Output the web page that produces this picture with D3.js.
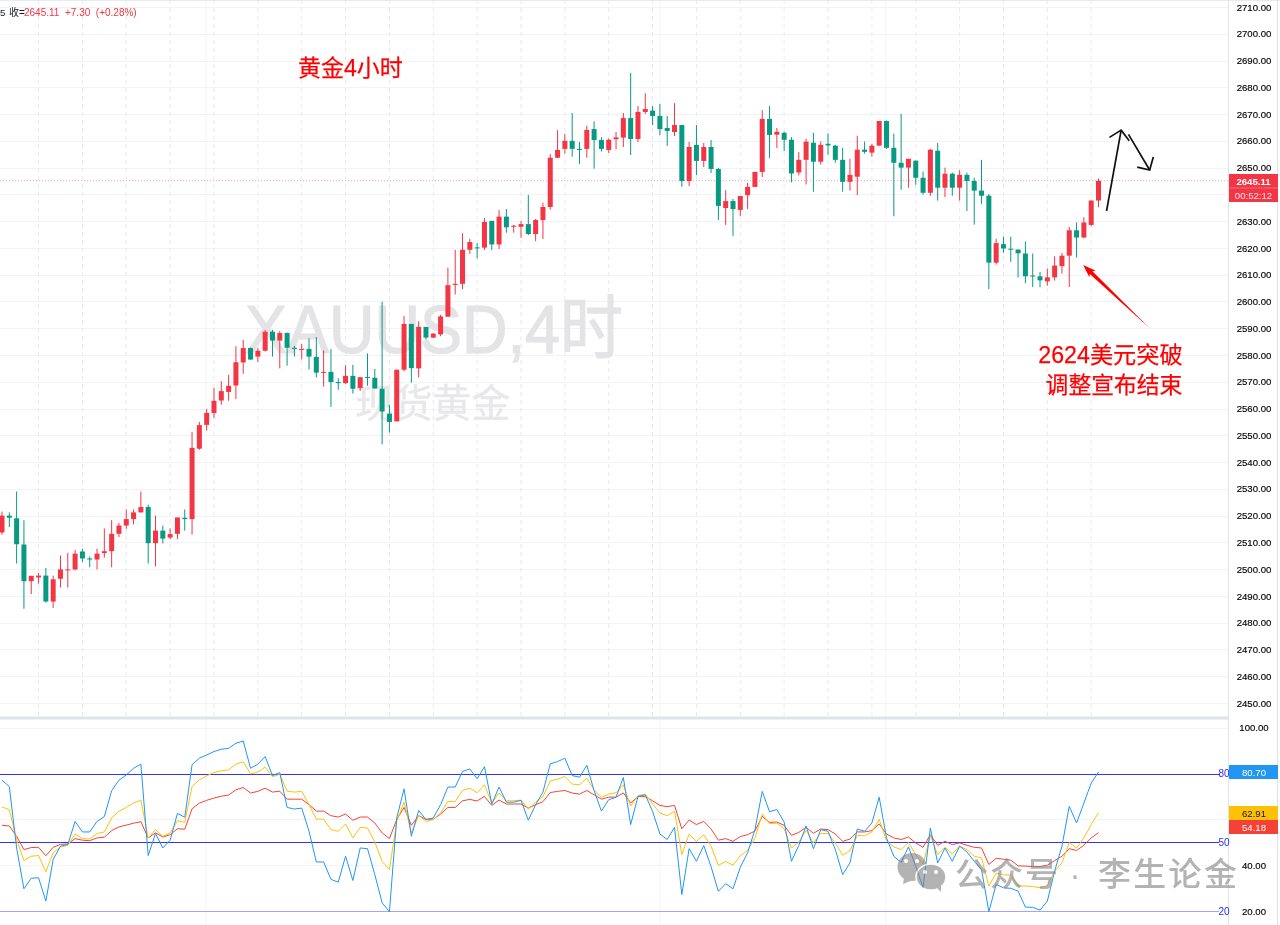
<!DOCTYPE html>
<html><head><meta charset="utf-8">
<script src="https://cdn.jsdelivr.net/npm/d3@7"></script>
<style>html,body{margin:0;padding:0;background:#fff;overflow:hidden}svg{display:block;filter:blur(0.3px)}text{font-family:"Liberation Sans","Noto Sans CJK SC",sans-serif}</style>
</head><body><svg id="c" width="1280" height="925"></svg>
<script>
const opens=[2513.7,2520,2519,2509.2,2495.5,2496.9,2497.6,2487.9,2496.4,2499.6,
2499.9,2506.6,2504,2503.6,2506,2506.7,2513.2,2516.3,2518.7,2521.2,
2523.2,2509.7,2514.4,2511.8,2513.2,2519.2,2518.7,2545,2553.9,2558.3,
2563,2566.2,2568.6,2577.2,2582.6,2579.4,2581.6,2588.7,2585.4,2588.2,
2582.7,2582.1,2582.3,2579.3,2573.4,2573.7,2569.9,2569.5,2572.2,2567.7,
2571.8,2571.5,2567.4,2558.1,2555.2,2574.5,2591.6,2575,2590.5,2586.5,
2587.7,2594.3,2606.2,2606.6,2619.3,2620.2,2620.1,2630.1,2621.3,2631.7,
2627.9,2627.9,2628.9,2625.2,2630.4,2635.3,2653.7,2657,2660,2657,
2657,2664.4,2660.3,2656.6,2660.6,2661.2,2668.5,2660.7,2670.8,2671.3,
2669.3,2664.8,2663.3,2665.9,2645,2658.5,2652.5,2657.7,2649.5,2634.9,
2637.5,2634.2,2639.7,2642.8,2648.4,2668.2,2662.3,2663,2660.4,2648.2,
2652.9,2659.3,2652.2,2658.9,2658.2,2652.9,2644.7,2646.6,2656.7,2655.6,
2658.2,2667.4,2657.4,2651.8,2650,2652.6,2646.2,2640.6,2656.3,2642.5,
2647.7,2642.5,2647.3,2645,2641.4,2639.5,2614.5,2621.4,2619.7,2619.4,
2617.9,2609.7,2609.4,2607.5,2609,2613.2,2617.1,2626.6,2623.9,2628.6,2637.7];
const closes=[2520,2519.2,2509.3,2495.5,2497.5,2497.6,2487.9,2496.2,2499.9,2499.9,
2505.8,2504,2503.6,2505.8,2506.7,2513.2,2516.3,2518.7,2521.2,2523.2,
2509.7,2514.4,2511.4,2513.1,2519.3,2518.7,2545.3,2553.8,2558.4,2562.9,
2566.5,2568.5,2577.3,2582.6,2578.3,2581.6,2588.7,2585.4,2588.2,2582.7,
2582.3,2582.3,2579.4,2573.4,2573.7,2569.9,2569.5,2572.2,2567.4,2571.7,
2571.6,2567.5,2558.9,2555,2574.5,2591.6,2575.1,2590.5,2586.5,2588,
2594.4,2606.1,2606.6,2619.3,2622.2,2619.9,2629.7,2621.3,2631.7,2627.7,
2628.3,2628.9,2625.2,2630.4,2635.3,2653.7,2656.6,2660,2657,2656.6,
2664.1,2660.3,2657,2660.4,2661.3,2668.5,2660.7,2670.8,2671.9,2669.3,
2664.4,2663.7,2665.9,2645,2657.7,2652.5,2657.7,2649.5,2635.7,2637.5,
2634.5,2639.4,2642.8,2648.4,2668.2,2662.2,2663.4,2660.4,2647.8,2652.9,
2659.7,2652.2,2658.5,2658.3,2652.9,2644.7,2647.3,2656.7,2655.9,2658.2,
2667.4,2657.4,2651.8,2650,2653.3,2646.2,2640.6,2656.7,2642.5,2647.7,
2642.5,2647.3,2645,2641.4,2639.5,2614.5,2621.8,2619.8,2619.4,2618,
2609.4,2609.4,2607.9,2609,2613.4,2617.1,2626.6,2623.9,2629.5,2637.7,2645.11];
const highs=[2521.5,2521.2,2529,2518.3,2497.5,2498.6,2500.4,2497.6,2505.1,2506.1,
2507.2,2507.6,2504.7,2507.7,2515.2,2518.3,2517.3,2522.3,2522.3,2529,
2524.1,2520,2516.3,2515.2,2519.3,2522.3,2551.3,2555,2559.9,2567.7,
2570.2,2572.6,2583.3,2585.7,2582.8,2582.6,2589.4,2589.4,2588.9,2588.4,
2583.4,2584.2,2586.2,2586.7,2581.7,2582.2,2571.3,2576.2,2576.3,2571.7,
2580.6,2574.8,2599.9,2561.4,2574.5,2594.6,2591.6,2592.6,2590.5,2588.2,
2595,2612.6,2619.3,2625.5,2623.4,2621.8,2631.2,2630.1,2634.2,2634.5,
2628.6,2630.1,2639.8,2630.8,2636.9,2655,2664,2662.6,2670.4,2659.6,
2665.7,2667.3,2661.4,2660.9,2663.3,2670.4,2685.4,2673,2677.8,2673,
2673.8,2669.3,2674.1,2665.9,2659.6,2665.9,2659.2,2660.3,2649.9,2641.6,
2638.3,2639.4,2644.3,2648.4,2671.5,2673,2664.8,2663.4,2661.4,2655.8,
2660.8,2663,2659.8,2662.8,2658.5,2657.4,2653.3,2661.9,2659.7,2658.9,
2667.4,2667.6,2662.7,2670.1,2653.3,2652.6,2648.5,2657,2659.2,2650,
2648.1,2649,2648.1,2646.2,2652.9,2640.2,2623.4,2624.2,2624.2,2619.4,
2622.4,2617.9,2611,2612.3,2616.9,2618.1,2627.9,2629.5,2631.5,2637.7,2645.9];
const lows=[2512.9,2515.7,2502.1,2485.2,2490.7,2494.6,2487.5,2485.5,2493.1,2493.1,
2499.5,2502.7,2500.7,2499.9,2504.3,2500.7,2512,2515.1,2516.7,2521.2,
2502.1,2501,2509.6,2511.2,2511.2,2514.4,2512.9,2544.6,2551.8,2556.5,
2561.4,2562.9,2563.6,2573,2578.2,2577.4,2581.3,2579.4,2575,2576,
2579.4,2578.3,2574.6,2571.6,2568.2,2560.6,2567,2569.2,2565.6,2566.6,
2568.5,2567.5,2546.6,2551,2555.2,2573.9,2569.7,2571.6,2585.7,2586.4,
2587,2594.3,2602.6,2604.6,2617.8,2616.1,2619.2,2619.2,2619.6,2625.7,
2625.7,2623.8,2624.8,2622.5,2623.3,2634.3,2653.5,2655.3,2654.1,2651.4,
2653.7,2649.6,2656,2655.5,2656.8,2657.7,2654.7,2659.6,2670,2665.9,
2662.1,2658.1,2661.8,2642.8,2643.1,2647.2,2650.2,2648,2630.4,2628.6,
2624.5,2631.9,2634.5,2642.8,2646.5,2653.6,2657.3,2656.2,2644.5,2647.1,
2643.7,2641,2651.1,2654.8,2651.8,2641,2641.4,2639.7,2655.2,2654.1,
2658.2,2657,2631.8,2641.7,2642.5,2643.6,2639.9,2639.5,2637.7,2639,
2639.5,2637.7,2633.8,2628.7,2636.5,2604.6,2613.8,2618.2,2614.8,2609,
2606.8,2605.4,2605.3,2605.9,2607.8,2610.4,2605.4,2616.4,2623.6,2628.1,2635.2];
const rsiFast=[77.1,74.3,47.5,29.7,34.3,34.5,24.3,42.5,48.3,49,
59.1,54.5,54.5,59.1,61.2,72.5,77.1,79.4,82.3,84.1,
44.2,53.8,47.5,50.9,62.6,60.9,83.8,86.7,88.1,89.6,
90.6,91,93.2,94.2,82.3,84.1,87.4,79.1,80.4,65.2,
64.5,64.9,54.8,41.4,41.4,33.8,32.6,43.9,33.3,47.5,
47.2,35.9,23.6,19.7,60.6,73.3,52.6,63.9,59.9,60.6,
66.4,74.1,74.1,80.9,82,77.7,83,66.7,74.1,67.5,
67.5,68.3,59.6,66.4,71.9,84.2,85.2,86.7,79.1,78.4,
83.6,72.5,63.6,68.6,69.6,78.3,57.7,70,70.7,63.5,
53.6,51.2,56.5,27.2,47.2,41.7,48.6,39.3,28.6,31.9,
29.7,39.1,45.4,55.5,72.2,63.3,64.3,58.8,41.7,48.6,
57.2,47.2,55.5,54.8,46.8,35.9,41,55.8,54.8,58.4,
69.7,51.9,43.9,41.2,48,39.6,30.1,56.2,41,47.5,
41.7,48.3,45.8,41.7,38.1,19.7,31.6,30.1,29.9,28.7,
21.7,21.6,20.4,24.3,37.4,48.3,65.7,58.4,67.1,75.8,80.7];
const rsiMid=[65.4,64.2,51.2,42,43.9,44.2,37.1,45.4,48,48.6,
53.6,51.6,51.4,53.8,54.5,60.6,63.5,65.2,67.1,68.4,
51.9,55.5,52.6,54.1,59.4,58.7,74.3,77.2,79,80.4,
81.2,81.6,84.1,85.1,79.9,80.6,82.8,78.6,79.7,72.3,
71.9,72.2,66.4,60.1,60.1,55.5,54.8,58,51.9,56.5,
56.2,50.1,41.7,38.1,59.1,67.5,54.1,61.7,59.1,59.9,
62.8,67.8,67.8,72.6,73.6,71.6,75.1,67.1,71.5,68.1,
68.1,68.4,64.5,67.5,69.9,76.8,77.5,78.7,75.4,75.1,
78,72.9,69.6,71,71.6,75.1,65.8,70.4,71,66.7,
62.8,61.6,63.5,44.6,53.6,50.3,53.3,48.3,40,41.6,
40,44.1,46.4,51.9,62.3,58.1,58.4,55.8,47.5,50.1,
55.2,49.7,53.9,53.8,49.7,44.3,46.4,53,52.8,54.5,
60,50.7,48,46.8,49.9,44.6,40.3,53,44.6,47.8,
44.9,48.3,46.8,43.9,43.2,30.9,36.5,35.8,35.7,30.9,
30.9,30.7,30.1,31.2,37.4,41,49.9,47.5,51.9,57.7,62.91];
const rsiSlow=[57.4,57.1,52.6,46.8,47.7,47.8,44.1,47.8,49.1,49.3,
51.6,50.9,50.7,51.9,52.2,55.1,56.7,57.5,58.3,59,
51.9,54.1,52.3,53.3,55.9,55.7,64.6,67.1,68.3,69.3,
70.1,70.6,72.9,73.9,71.5,72.2,73.6,71.9,72.3,68.8,
68.8,68.8,66.4,63.6,63.6,61.6,61,62.3,59.6,61,
61,58.4,54.1,51.6,59.9,65.2,57.4,61.6,60,60.1,
62.3,65.2,65.2,68.1,68.7,68,70,66.1,68.4,66.7,
66.7,66.7,64.9,66.4,67.7,71.7,72.2,72.6,71.5,71,
72.6,70.7,68.8,69.7,69.7,71.5,67.2,69.9,69.9,68.1,
66.1,65.5,66.1,55.9,59.7,57.7,59.1,55.8,50.9,51.6,
50.4,52.5,53.3,54.9,61.3,58.7,58.8,57.4,53,54.3,
56.5,53.9,55.8,55.5,53.6,50.4,51.4,54.5,54.5,55.1,
58,53.6,51.9,51.2,52.3,49.7,47.8,53.3,48.7,50.4,
49,49.7,48.7,47.8,47.5,40.3,43,42.6,42.2,39.7,
39.6,39.4,39.4,40,42,43.9,47.2,46.4,48.7,51.9,54.18];
const priceTicks=d3.range(2450,2711,10);
const rsiLabels=[100,40,20];
const rsiBands=[80,50,20];
const rsiGrid=[100,60,40];
const blackArrow=[[[151.1,2633.8],[153.1,2664]],[[151.5,2661.3],[153.1,2664],[154.2,2660]],[[154.1,2662.4],[157,2649.1]],[[155.3,2650.2],[157,2649.1],[157.5,2654]]];
const redArrow=[[157,2590],[147.9,2613.6]];

const W=1229;
const svg=d3.select('#c');
const x=d3.scaleLinear().domain([0,150]).range([2,1098.5]);
const y=d3.scaleLinear().domain([2450,2710]).range([703,7]);
const r=d3.scaleLinear().domain([20,100]).range([911,727.7]);
const red='#f23645',green='#089981';

// grids
const dashIdx=d3.range(5,150,6);
svg.append('g').selectAll('line').data(priceTicks).join('line')
 .attr('x1',0).attr('x2',W).attr('y1',d=>Math.round(y(d))+.5).attr('y2',d=>Math.round(y(d))+.5).attr('stroke','#f1f3f9');
svg.append('g').selectAll('line').data(rsiGrid).join('line')
 .attr('x1',0).attr('x2',W).attr('y1',d=>Math.round(r(d))+.5).attr('y2',d=>Math.round(r(d))+.5).attr('stroke','#f1f3f9');
svg.append('g').selectAll('line').data(dashIdx).join('line')
 .attr('x1',d=>x(d)).attr('x2',d=>x(d)).attr('y1',0).attr('y2',716)
 .attr('stroke','#e8e9f0').attr('stroke-dasharray','4 4');
svg.append('g').selectAll('line').data([27.9,90,120.9]).join('line')
 .attr('x1',d=>x(d)).attr('x2',d=>x(d)).attr('y1',0).attr('y2',925).attr('stroke','#f1f3f9');

// watermarks
svg.append('text').attr('x',245).attr('y',353).attr('font-size',69).attr('fill','#e4e4e6').attr('stroke','#e4e4e6').attr('stroke-width',1.2)
 .attr('textLength',378).attr('lengthAdjust','spacingAndGlyphs').text('XAUUSD,4时');
svg.append('text').attr('x',355).attr('y',417).attr('font-size',38.8).attr('fill','#e8e8ea').attr('stroke','#e8e8ea').attr('stroke-width',.4).text('现货黄金');

// current price line
svg.append('line').attr('x1',0).attr('x2',W).attr('y1',y(2645.11)).attr('y2',y(2645.11))
 .attr('stroke',red).attr('stroke-opacity',.45).attr('stroke-dasharray','1 2');

// candles
const candles=d3.range(opens.length);
const g=svg.append('g');
g.selectAll('.w').data(candles).join('line').attr('class','w')
 .attr('x1',i=>x(i)).attr('x2',i=>x(i)).attr('y1',i=>y(highs[i])).attr('y2',i=>y(lows[i]))
 .attr('stroke',i=>closes[i]>=opens[i]?red:green).attr('stroke-width',1);
g.selectAll('.b').data(candles).join('rect').attr('class','b')
 .attr('x',i=>x(i)-2.5).attr('width',5)
 .attr('y',i=>y(Math.max(opens[i],closes[i])))
 .attr('height',i=>Math.max(1,Math.abs(y(opens[i])-y(closes[i]))))
 .attr('fill',i=>closes[i]>=opens[i]?red:green);

// separators / frame
svg.append('rect').attr('x',0).attr('y',716.5).attr('width',1229).attr('height',3).attr('fill','#e0e3eb');
svg.append('rect').attr('x',0).attr('y',0).attr('width',1280).attr('height',1).attr('fill','#e8eaf1');
svg.append('line').attr('x1',1228.5).attr('x2',1228.5).attr('y1',0).attr('y2',925).attr('stroke','#e0e3eb');
svg.append('line').attr('x1',1277.5).attr('x2',1277.5).attr('y1',0).attr('y2',925).attr('stroke','#e0e3eb');

// axes
const axP=d3.axisRight(y).tickValues(priceTicks).tickFormat(d3.format('.2f')).tickSize(0).tickPadding(0);
const ga=svg.append('g').attr('transform','translate(1254,0)').call(axP);
ga.select('.domain').remove();
ga.selectAll('text').attr('text-anchor','middle').attr('font-size',9.6).attr('fill','#000').attr('stroke','#000').attr('stroke-width',.15).style('font-family','"Liberation Sans"');
const axR=d3.axisRight(r).tickValues(rsiLabels).tickFormat(d3.format('.2f')).tickSize(0).tickPadding(0);
const gr=svg.append('g').attr('transform','translate(1254,0)').call(axR);
gr.select('.domain').remove();
gr.selectAll('text').attr('text-anchor','middle').attr('font-size',9.6).attr('fill','#000').attr('stroke','#000').attr('stroke-width',.15).style('font-family','"Liberation Sans"');

// RSI bands
svg.append('g').selectAll('line').data(rsiBands).join('line')
 .attr('x1',0).attr('x2',1219).attr('y1',d=>Math.round(r(d))+.5).attr('y2',d=>Math.round(r(d))+.5)
 .attr('stroke',d=>d===20?'#a3a3ff':'#3434f5').attr('stroke-width',1);
svg.append('g').selectAll('text').data(rsiBands).join('text')
 .attr('x',1224).attr('y',d=>r(d)+3.5).attr('text-anchor','middle').attr('font-size',10).attr('fill','#2a2af0').text(d=>d);

// RSI lines
const ln=d3.line().x((d,i)=>x(i)).y(d=>r(d));
[[rsiSlow,'#f44336'],[rsiMid,'#ffc107'],[rsiFast,'#2196f3']].forEach(([s,c])=>{
 svg.append('path').attr('d',ln(s)).attr('fill','none').attr('stroke',c).attr('stroke-width',1);
});

// price tag
svg.append('rect').attr('x',1229).attr('y',174).attr('width',49).attr('height',28).attr('fill',red);
svg.append('line').attr('x1',1229).attr('x2',1278).attr('y1',188).attr('y2',188).attr('stroke','#fff').attr('stroke-opacity',.25);
svg.append('text').attr('x',1253.5).attr('y',184.5).attr('text-anchor','middle').attr('font-size',9.6).attr('fill','#fff').attr('font-weight','bold').text(d3.format('.2f')(closes[150]));
svg.append('text').attr('x',1253.5).attr('y',198.5).attr('text-anchor','middle').attr('font-size',9.6).attr('fill','#ffe2e4').text('00:52:12');

// RSI tags
[[rsiFast,'#2196f3','#fff',765,14],[rsiMid,'#ffc107','#131722',806,14],[rsiSlow,'#f44336','#fff',820,14]].forEach(([s,c,t,ty,h])=>{
 svg.append('rect').attr('x',1229).attr('y',ty).attr('width',49).attr('height',h).attr('fill',c);
 svg.append('text').attr('x',1254).attr('y',ty+10.5).attr('text-anchor','middle').attr('font-size',9.6).attr('fill',t).text(d3.format('.2f')(s[150]));
});

// header
svg.append('text').attr('x',0).attr('y',16).attr('font-size',9.6).attr('fill','#131722').text('5');
svg.append('text').attr('x',9).attr('y',16).attr('font-size',10).attr('fill','#131722').text('收=');
svg.append('text').attr('x',24).attr('y',16).attr('font-size',10).attr('fill',red).attr('xml:space','preserve').text('2645.11  +7.30  (+0.28%)');

// annotations
svg.append('text').attr('x',298).attr('y',76).attr('font-size',23).attr('fill','#ff0000').attr('stroke','#ff0000').attr('stroke-width',.25).text('黄金4小时');
svg.append('text').attr('x',1110.5).attr('y',363).attr('text-anchor','middle').attr('font-size',23.2).attr('fill','#ff0000').attr('stroke','#ff0000').attr('stroke-width',.25).text('2624美元突破');
svg.append('text').attr('x',1114).attr('y',393).attr('text-anchor','middle').attr('font-size',22.8).attr('fill','#ff0000').attr('stroke','#ff0000').attr('stroke-width',.25).text('调整宣布结束');

const al=d3.line().x(d=>x(d[0])).y(d=>y(d[1]));
blackArrow.forEach(p=>svg.append('path').attr('d',al(p)).attr('fill','none').attr('stroke','#111').attr('stroke-width',1.7));
// tapered red arrow: wedge from tail to head
{
 const [tx,ty]=[x(redArrow[0][0]),y(redArrow[0][1])],[hx,hy]=[x(redArrow[1][0]),y(redArrow[1][1])];
 const L=Math.hypot(hx-tx,hy-ty),ux=(hx-tx)/L,uy=(hy-ty)/L,nx=-uy,ny=ux;
 const at=(back,side)=>[hx-ux*back+nx*side,hy-uy*back+ny*side];
 const pts=[[tx,ty],at(11,1.9),at(13,4.6),[hx,hy],at(13,-4.6),at(11,-1.9)];
 svg.append('polygon').attr('points',pts.map(p=>p.join(',')).join(' ')).attr('fill','#ff0000');
}

// WeChat mark
const wm=svg.append('g').attr('opacity',.62);
const grey='#858585';
wm.append('ellipse').attr('cx',912).attr('cy',867).attr('rx',14.5).attr('ry',14).attr('fill',grey);
wm.append('path').attr('d','M904,878L903,884L913,880Z').attr('fill',grey);
wm.append('ellipse').attr('cx',931).attr('cy',877).attr('rx',15).attr('ry',13).attr('stroke','#fff').attr('stroke-width',1.5).attr('fill',grey);
wm.append('path').attr('d','M936,887L941,892L941,884Z').attr('fill',grey);
[[906,861],[917,861],[925,872],[936,872]].forEach(p=>wm.append('circle').attr('cx',p[0]).attr('cy',p[1]).attr('r',2).attr('fill','#fff'));
svg.append('text').attr('x',955).attr('y',886).attr('font-size',33).attr('font-weight',500).attr('letter-spacing',2).attr('fill','#858585').attr('fill-opacity',.62).text('公众号');
svg.append('text').attr('x',1075).attr('y',886).attr('text-anchor','middle').attr('font-size',33).attr('font-weight',500).attr('fill','#858585').attr('fill-opacity',.62).text('·');
svg.append('text').attr('x',1098).attr('y',886).attr('font-size',33).attr('font-weight',500).attr('letter-spacing',2.3).attr('fill','#858585').attr('fill-opacity',.62).text('李生论金');
</script></body></html>
